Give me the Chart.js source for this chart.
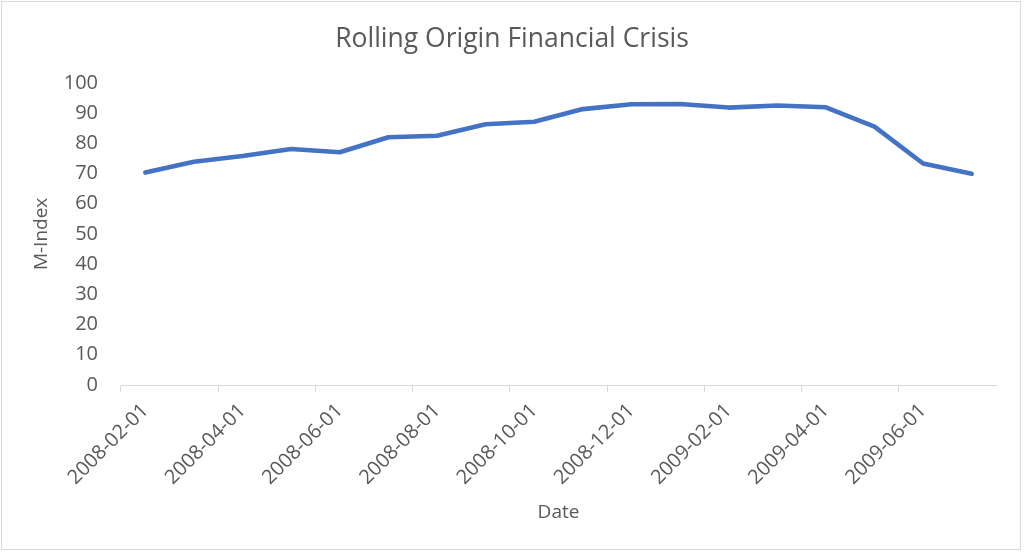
<!DOCTYPE html>
<html>
<head>
<meta charset="utf-8">
<script src="https://cdn.jsdelivr.net/npm/chart.js@4/dist/chart.umd.min.js"></script>
<style>
  html, body { margin: 0; padding: 0; background: #fff; }
  #wrap { width: 1024px; height: 554px; position: relative; }
</style>
</head>
<body>
<div id="wrap"><canvas id="c" width="1024" height="554"></canvas></div>
<script>
const categories = [
  "2008-02-01","2008-03-01","2008-04-01","2008-05-01","2008-06-01","2008-07-01",
  "2008-08-01","2008-09-01","2008-10-01","2008-11-01","2008-12-01","2009-01-01",
  "2009-02-01","2009-03-01","2009-04-01","2009-05-01","2009-06-01","2009-07-01"
];
const mIndex = [70.3, 73.9, 75.8, 78.1, 77.0, 82.0, 82.5, 86.3, 87.1,
                91.3, 92.9, 93.0, 91.8, 92.5, 91.9, 85.5, 73.3, 69.9];
const yTicks = [0, 10, 20, 30, 40, 50, 60, 70, 80, 90, 100];

const textColor = '#595959';
const lineGray = '#D9D9D9';
const fontFamily = '"Open Sans", sans-serif';

const borderPlugin = {
  id: 'outerBorder',
  beforeDraw(chart) {
    const ctx = chart.ctx;
    ctx.save();
    ctx.fillStyle = '#fff';
    ctx.fillRect(0, 0, chart.width, chart.height);
    ctx.strokeStyle = lineGray;
    ctx.lineWidth = 1;
    ctx.strokeRect(1.5, 1.5, 1019, 548);
    ctx.restore();
  }
};

new Chart(document.getElementById('c'), {
  type: 'line',
  data: {
    labels: categories,
    datasets: [{
      label: 'M-Index',
      data: mIndex,
      borderColor: '#4472C4',
      borderWidth: 4.6,
      pointRadius: 0,
      tension: 0,
      fill: false,
      borderJoinStyle: 'round',
      borderCapStyle: 'round'
    }]
  },
  options: {
    responsive: false,
    animation: false,
    devicePixelRatio: 1,
    layout: { padding: { left: 0, right: 0, top: 0, bottom: 0 } },
    plugins: {
      legend: { display: false },
      tooltip: { enabled: false },
      title: {
        display: true,
        text: 'Rolling Origin Financial Crisis',
        color: textColor,
        font: { family: fontFamily, size: 26.5, weight: 'normal', lineHeight: 1.2 },
        padding: { top: 24, bottom: 27 }
      }
    },
    scales: {
      x: {
        type: 'category',
        offset: true,
        border: { display: true, color: lineGray, width: 1 },
        grid: {
          display: true,
          offset: true,
          drawOnChartArea: false,
          drawTicks: true,
          tickLength: 7,
          color: (ctx) => (ctx.index % 2 === 0 ? lineGray : 'rgba(0,0,0,0)')
        },
        ticks: {
          autoSkip: false,
          maxRotation: 45,
          minRotation: 45,
          padding: 7,
          color: textColor,
          font: { family: fontFamily, size: 20 },
          callback: function (value, index) {
            return index % 2 === 0 ? this.getLabelForValue(value) : '';
          }
        },
        title: {
          display: true,
          text: 'Date',
          color: textColor,
          font: { family: fontFamily, size: 19 },
          padding: { top: 0, bottom: 30 }
        },
        afterFit(scale) { scale.height = 169; }
      },
      y: {
        min: 0,
        max: 100,
        border: { display: false },
        grid: { display: false, drawTicks: false },
        afterBuildTicks(scale) { scale.ticks = yTicks.map(v => ({ value: v })); },
        ticks: {
          padding: 23,
          color: textColor,
          font: { family: fontFamily, size: 20 }
        },
        title: {
          display: true,
          text: 'M-Index',
          color: textColor,
          font: { family: fontFamily, size: 19 },
          padding: { top: 30, bottom: 0 }
        },
        afterFit(scale) { scale.width = 121; }
      },
      yRightSpace: {
        position: 'right',
        display: true,
        border: { display: false },
        grid: { display: false, drawTicks: false },
        ticks: { display: false },
        afterFit(scale) { scale.width = 28; }
      }
    }
  },
  plugins: [borderPlugin]
});
</script>
</body>
</html>
